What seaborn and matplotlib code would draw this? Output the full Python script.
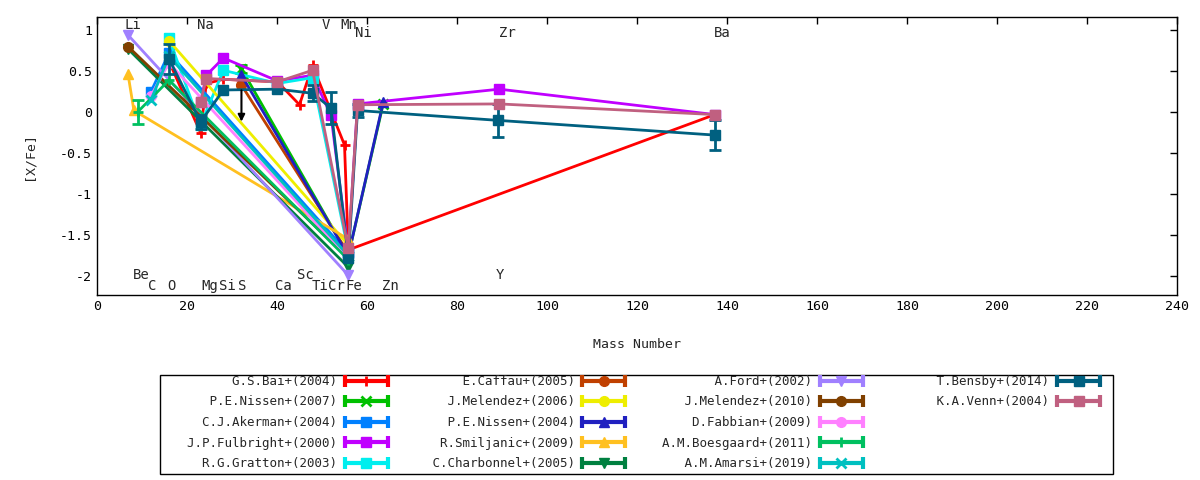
import numpy as np
import pandas as pd
import matplotlib
matplotlib.use("Agg")
import matplotlib.pyplot as plt
import seaborn as sns
from matplotlib.lines import Line2D
from matplotlib.patches import Rectangle
from matplotlib.legend_handler import HandlerLine2D
from matplotlib.ticker import FuncFormatter, MultipleLocator

# element masses used on the x axis
LI, BE, C, O, NA, MG, SI, S = 6.9, 9.0, 12.0, 16.0, 23.0, 24.3, 28.1, 32.1
CA, TI, CR, FE, NI, ZN, Y, BA = 40.1, 47.9, 52.0, 55.85, 57.9, 63.6, 89.4, 137.3

# series: label, colour, marker, mass, value, error
labels = ["G.S.Bai+(2004)", "P.E.Nissen+(2007)", "C.J.Akerman+(2004)", "J.P.Fulbright+(2000)",
          "R.G.Gratton+(2003)", "E.Caffau+(2005)", "J.Melendez+(2006)", "P.E.Nissen+(2004)",
          "R.Smiljanic+(2009)", "C.Charbonnel+(2005)", "A.Ford+(2002)", "J.Melendez+(2010)",
          "D.Fabbian+(2009)", "A.M.Boesgaard+(2011)", "A.M.Amarsi+(2019)", "T.Bensby+(2014)",
          "K.A.Venn+(2004)"]
colors = ["#ff0000", "#00c000", "#0080ff", "#c000ff", "#00eeee", "#c04000", "#eeee00", "#2020c0",
          "#ffc020", "#008040", "#a080ff", "#804000", "#ff80ff", "#00c060", "#00c0c0", "#006080",
          "#c06080"]
markers = ["+", "x", "s", "s", "s", "o", "o", "^", "^", "v", "v", "o", "o", "+", "x", "s", "s"]

bai_x = [O, NA, MG, SI, CA, 45.0, TI, 55.0, FE, BA]
bai_y = [0.62, -0.25, 0.35, 0.40, 0.37, 0.09, 0.57, -0.40, -1.68, -0.03]
bai_e = [0, 0, 0, 0, 0, 0, 0, 0, 0, 0]
nis07_x = [S, FE, ZN]
nis07_y = [0.53, -1.75, 0.10]
nis07_e = [0.05, 0, 0]
ake_x = [C, O, FE]
ake_y = [0.25, 0.72, -1.72]
ake_e = [0, 0, 0]
ful_x = [NA, MG, SI, CA, TI, CR, FE, NI, Y, BA]
ful_y = [0.12, 0.45, 0.66, 0.38, 0.45, -0.04, -1.70, 0.10, 0.28, -0.03]
ful_e = [0, 0, 0, 0, 0, 0, 0, 0, 0, 0]
gra_x = [O, NA, SI, CA, TI, FE]
gra_y = [0.90, -0.16, 0.51, 0.35, 0.42, -1.70]
gra_e = [0, 0, 0, 0, 0, 0]
caf_x = [S, FE]
caf_y = [0.33, -1.72]
caf_e = [0, 0]
mel06_x = [O, FE]
mel06_y = [0.87, -1.62]
mel06_e = [0, 0]
nis04_x = [S, FE, ZN]
nis04_y = [0.45, -1.75, 0.12]
nis04_e = [0, 0, 0]
smi_x = [LI, 8.2, FE]
smi_y = [0.46, 0.02, -1.55]
smi_e = [0, 0, 0]
cha_x = [LI, FE]
cha_y = [0.77, -1.89]
cha_e = [0, 0]
ford_x = [LI, FE]
ford_y = [0.94, -1.99]
ford_e = [0, 0]
mel10_x = [LI, FE]
mel10_y = [0.80, -1.78]
mel10_e = [0, 0]
fab_x = [C, O, FE]
fab_y = [0.20, 0.60, -1.78]
fab_e = [0, 0, 0]
boe_x = [BE, O, FE]
boe_y = [0.00, 0.39, -1.80]
boe_e = [0.15, 0, 0]
ama_x = [C, O, FE]
ama_y = [0.15, 0.68, -1.75]
ama_e = [0, 0, 0]
ben_x = [O, NA, SI, CA, TI, CR, FE, NI, 89.0, BA]
ben_y = [0.65, -0.12, 0.27, 0.28, 0.23, 0.05, -1.78, 0.02, -0.10, -0.28]
ben_e = [0.18, 0.08, 0, 0, 0.10, 0.20, 0, 0.08, 0.20, 0.18]
venn_x = [NA, MG, CA, TI, FE, NI, Y, BA]
venn_y = [0.12, 0.41, 0.37, 0.51, -1.66, 0.09, 0.10, -0.03]
venn_e = [0, 0, 0, 0, 0, 0, 0, 0]

xs = [bai_x, nis07_x, ake_x, ful_x, gra_x, caf_x, mel06_x, nis04_x, smi_x, cha_x,
      ford_x, mel10_x, fab_x, boe_x, ama_x, ben_x, venn_x]
ys = [bai_y, nis07_y, ake_y, ful_y, gra_y, caf_y, mel06_y, nis04_y, smi_y, cha_y,
      ford_y, mel10_y, fab_y, boe_y, ama_y, ben_y, venn_y]
es = [bai_e, nis07_e, ake_e, ful_e, gra_e, caf_e, mel06_e, nis04_e, smi_e, cha_e,
      ford_e, mel10_e, fab_e, boe_e, ama_e, ben_e, venn_e]

# upper limit arrow (sulphur)
limit_x, limit_from, limit_to = S, 0.30, -0.15

# element name labels
elem_names = ["Li", "Na", "V", "Mn", "Ni", "Zr", "Ba",
              "Be", "Sc", "Y",
              "C", "O", "Mg", "Si", "S", "Ca", "Ti", "Cr", "Fe", "Zn"]
elem_x = [6.2, 22.2, 50.0, 54.0, 57.3, 89.3, 137.1,
          8.0, 44.4, 88.7,
          11.3, 15.6, 23.3, 27.1, 31.3, 39.6, 47.8, 51.3, 55.1, 63.3]
elem_y = [1.06, 1.06, 1.06, 1.06, 0.96, 0.96, 0.96,
          -1.99, -1.99, -1.99,
          -2.12, -2.12, -2.12, -2.12, -2.12, -2.12, -2.12, -2.12, -2.12, -2.12]

sns.set_style("white")
plt.rcParams["font.family"] = ["DejaVu Sans Mono"]
plt.rcParams["font.size"] = 9.5

fig = plt.figure(figsize=(12, 4.8), dpi=100)
ax = fig.add_axes([97 / 1200, 1 - 295 / 480, 1080 / 1200, 278 / 480])

handles = []
hmap = {}
for lab, col, mk, x, y, e in zip(labels, colors, markers, xs, ys, es):
    df = pd.DataFrame({"mass": x, "val": y, "err": e})
    filled = mk not in ("+", "x")
    sns.lineplot(data=df, x="mass", y="val", color=col, marker=mk, markersize=7,
                 markeredgecolor=col, markeredgewidth=2 if not filled else 1,
                 linewidth=2, sort=False, estimator=None, ax=ax, legend=False)
    witherr = df[df["err"] > 0]
    if len(witherr):
        ax.errorbar(witherr["mass"], witherr["val"], yerr=witherr["err"], fmt="none",
                    ecolor=col, elinewidth=2, capsize=4, capthick=2)
    cap = Line2D([], [], color=col, lw=3, marker="|", ms=9, mew=3)
    dot = Line2D([], [], color=col, marker=mk, ls="none", ms=7, mew=2 if not filled else 1)
    hmap[cap] = HandlerLine2D(numpoints=2, marker_pad=0)
    hmap[dot] = HandlerLine2D(numpoints=1)
    handles.append((cap, dot))

ax.annotate("", xy=(limit_x, limit_to), xytext=(limit_x, limit_from),
            arrowprops=dict(arrowstyle="-|>", color="black", lw=1.5, mutation_scale=10))

for name, ex, ey in zip(elem_names, elem_x, elem_y):
    ax.text(ex, ey, name, ha="left", va="center", fontsize=10)

ax.set_xlim(0, 240)
ax.set_ylim(-2.23, 1.16)
ax.xaxis.set_major_locator(MultipleLocator(20))
ax.yaxis.set_major_locator(MultipleLocator(0.5))
ax.yaxis.set_major_formatter(FuncFormatter(lambda v, p: "%g" % v))
ax.tick_params(direction="in", top=True, right=True, length=5, width=1,
               labelsize=9.5, colors="black")
for sp in ax.spines.values():
    sp.set_color("black")
    sp.set_linewidth(1)
ax.set_xlabel("Mass Number", fontsize=9.5, labelpad=18)
ax.set_ylabel("[X/Fe]", fontsize=9.5, labelpad=18)

# gnuplot-like key: fixed width columns, filled column by column (5,5,5,2)
leg_labels = [l.rjust(22) for l in labels]
blank = Line2D([], [], alpha=0)
leg_handles = handles + [blank] * 3
leg_labels = leg_labels + [""] * 3
leg = fig.legend(leg_handles, leg_labels, handler_map=hmap, ncol=4, loc="upper left",
                 bbox_to_anchor=(172 / 1200, 1 - 375 / 480), borderaxespad=0, borderpad=0,
                 markerfirst=False, frameon=False,
                 handlelength=3.45, handletextpad=0.6, columnspacing=1.75,
                 labelspacing=0.6, fontsize=9)
fig.add_artist(Rectangle((160 / 1200, 1 - 474 / 480), 953 / 1200, 99 / 480,
                         transform=fig.transFigure, fill=False, edgecolor="black", lw=1))

fig.savefig("out.png", dpi=100)
